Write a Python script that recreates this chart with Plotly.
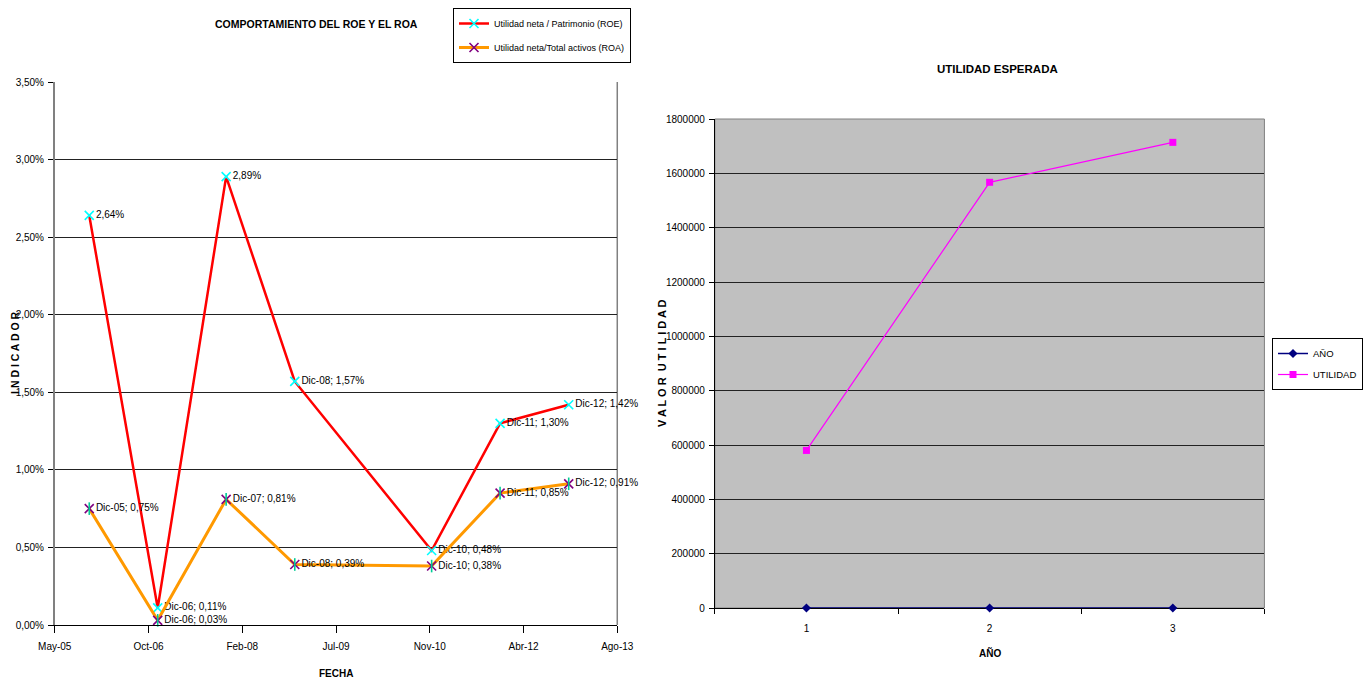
import pandas as pd
import plotly.graph_objects as go

# ---------------- Comportamiento del ROE y el ROA ----------------
periodos = ["Dic-05", "Dic-06", "Dic-07", "Dic-08", "Dic-10", "Dic-11", "Dic-12"]
fechas = ["2005-12-01", "2006-12-01", "2007-12-01", "2008-12-01",
          "2010-12-01", "2011-12-01", "2012-12-01"]
roe = [2.64, 0.11, 2.89, 1.57, 0.48, 1.30, 1.42]
roa = [0.75, 0.03, 0.81, 0.39, 0.38, 0.85, 0.91]
# which ROE labels also carry the period name
roe_con_periodo = [False, True, False, True, True, True, True]

fecha_inicio = "2005-05-31"
fecha_paso_dias = 500
fecha_etiquetas = ["May-05", "Oct-06", "Feb-08", "Jul-09", "Nov-10", "Abr-12", "Ago-13"]
indicador_ticks = [0, 0.5, 1.0, 1.5, 2.0, 2.5, 3.0, 3.5]

# ---------------- Utilidad esperada ----------------
anios = ["1", "2", "3"]
serie_anio = [1, 2, 3]
serie_utilidad = [580000, 1567000, 1714000]
utilidad_ticks = list(range(0, 1800001, 200000))

W, H = 1363, 680
FONT = "Liberation Sans Narrow, Arial Narrow, Liberation Sans, Arial, sans-serif"
SMALL = 10


def pct(v):
    return f"{v:.2f}".replace(".", ",") + "%"


def px_x(p):
    return p / W


def px_y(p):
    return 1 - p / H


roe_text = [(f"{p}; " if con else "") + pct(v) for p, v, con in zip(periodos, roe, roe_con_periodo)]
roa_text = [f"{p}; {pct(v)}" for p, v in zip(periodos, roa)]

fecha_ticks = pd.date_range(fecha_inicio, periods=len(fecha_etiquetas), freq=f"{fecha_paso_dias}D")
fecha_fin = fecha_ticks[-1]

label_font = dict(family=FONT, size=SMALL, color="#000000")

fig = go.Figure()

fig.add_trace(go.Scatter(
    x=fechas, y=roe, mode="lines+markers+text", name="Utilidad neta / Patrimonio (ROE)",
    line=dict(color="#FF0000", width=2.5),
    marker=dict(symbol="x-thin-open", size=9, line=dict(color="#00FFFF", width=1.6), color="#00FFFF"),
    text=roe_text, textposition="middle right", textfont=label_font,
    cliponaxis=False, xaxis="x", yaxis="y", legend="legend", legendgroup="roe",
))
fig.add_trace(go.Scatter(
    x=fechas, y=roa, mode="lines+markers+text", name="Utilidad neta/Total activos (ROA)",
    line=dict(color="#FF9900", width=3),
    marker=dict(symbol="x-thin-open", size=9, line=dict(color="#800080", width=1.6), color="#800080"),
    text=roa_text, textposition="middle right", textfont=label_font,
    cliponaxis=False, xaxis="x", yaxis="y", legend="legend", legendgroup="roa",
))
# vertical stroke that completes the star marker of ROA
fig.add_trace(go.Scatter(
    x=fechas, y=roa, mode="markers", showlegend=False, hoverinfo="skip",
    marker=dict(symbol="line-ns-open", size=9, line=dict(color="#800080", width=1.6)),
    cliponaxis=False, xaxis="x", yaxis="y",
))

fig.add_trace(go.Scatter(
    x=anios, y=serie_anio, mode="lines+markers", name="AÑO",
    line=dict(color="#000080", width=1.5),
    marker=dict(symbol="diamond", size=7, color="#000080"),
    cliponaxis=False, xaxis="x2", yaxis="y2", legend="legend2", legendgroup="anio",
))
fig.add_trace(go.Scatter(
    x=anios, y=serie_utilidad, mode="lines+markers", name="UTILIDAD",
    line=dict(color="#FF00FF", width=1.2),
    marker=dict(symbol="square", size=7, color="#FF00FF"),
    cliponaxis=False, xaxis="x2", yaxis="y2", legend="legend2", legendgroup="util",
))

tick_font = dict(family=FONT, size=SMALL, color="#000000")


def titulo(texto, x, y, size, angle=0):
    return dict(text=f"<b>{texto}</b>", x=px_x(x), y=px_y(y), xref="paper", yref="paper",
                xanchor="center", yanchor="middle", textangle=angle, showarrow=False,
                font=dict(family=FONT, size=size, color="#000000"))


fig.update_layout(
    width=W, height=H,
    margin=dict(l=0, r=0, t=0, b=0),
    paper_bgcolor="#FFFFFF", plot_bgcolor="rgba(0,0,0,0)",
    font=dict(family=FONT, size=SMALL, color="#000000"),
    xaxis=dict(
        domain=[px_x(55), px_x(620)], anchor="y", type="date", automargin=False,
        range=[fecha_ticks[0], fecha_fin],
        tickmode="array", tickvals=list(fecha_ticks), ticktext=fecha_etiquetas,
        ticks="outside", ticklen=7, tickcolor="#000000", tickfont=tick_font,
        ticklabelstandoff=5,
        showline=True, linecolor="#000000", linewidth=1, showgrid=False, zeroline=False,
    ),
    yaxis=dict(
        domain=[px_y(625), px_y(82)], anchor="x", automargin=False,
        range=[0, 3.5],
        tickmode="array", tickvals=indicador_ticks, ticktext=[pct(v) for v in indicador_ticks],
        ticks="outside", ticklen=5, tickcolor="#000000", tickfont=tick_font,
        ticklabelstandoff=2,
        showline=True, linecolor="#808080", linewidth=1.5,
        showgrid=True, gridcolor="#222222", gridwidth=1, zeroline=False,
    ),
    xaxis2=dict(
        domain=[px_x(718), px_x(1270)], anchor="y2", type="category", automargin=False,
        range=[-0.5, 2.5], tickson="boundaries", layer="below traces",
        ticks="outside", ticklen=5, tickcolor="#000000", tickfont=tick_font,
        ticklabelstandoff=11,
        showline=True, linecolor="#000000", linewidth=1, showgrid=False, zeroline=False,
    ),
    yaxis2=dict(
        domain=[px_y(608), px_y(119)], anchor="x2", automargin=False,
        range=[0, 1800000],
        tickmode="array", tickvals=utilidad_ticks, ticktext=[str(v) for v in utilidad_ticks],
        ticks="outside", ticklen=5, tickcolor="#000000", tickfont=tick_font,
        ticklabelstandoff=2,
        showline=True, linecolor="#000000", linewidth=1,
        showgrid=True, gridcolor="#222222", gridwidth=1, zeroline=False,
    ),
    legend=dict(
        x=px_x(455), y=px_y(8), xanchor="left", yanchor="top",
        bgcolor="#FFFFFF", bordercolor="#000000", borderwidth=1,
        font=dict(family=FONT, size=9, color="#000000"),
        tracegroupgap=5, itemwidth=30,
    ),
    legend2=dict(
        x=px_x(1278), y=px_y(338), xanchor="left", yanchor="top",
        bgcolor="#FFFFFF", bordercolor="#000000", borderwidth=1,
        font=dict(family=FONT, size=9.5, color="#000000"),
        tracegroupgap=2, itemwidth=30,
    ),
    shapes=[
        # grey plot area of the second chart
        dict(type="rect", xref="x2 domain", yref="y2 domain", x0=0, x1=1, y0=0, y1=1,
             fillcolor="#C0C0C0", line=dict(color="#808080", width=1), layer="below"),
        # right border of the first chart
        dict(type="line", xref="x domain", yref="y domain", x0=1, x1=1, y0=0, y1=1,
             line=dict(color="#808080", width=1.5), layer="below"),
    ],
    annotations=[
        titulo("COMPORTAMIENTO DEL ROE Y EL ROA", 318, 24, 10.5),
        titulo("FECHA", 337, 673, 10),
        titulo("I N D I C A D O R", 15, 353, 10.5, -90),
        titulo("UTILIDAD ESPERADA", 1002, 69, 11.5),
        titulo("AÑO", 994, 653, 10),
        titulo("V A L O R  U T I L I D A D", 665, 363, 11, -90),
    ],
)

fig.write_html("out.html")
